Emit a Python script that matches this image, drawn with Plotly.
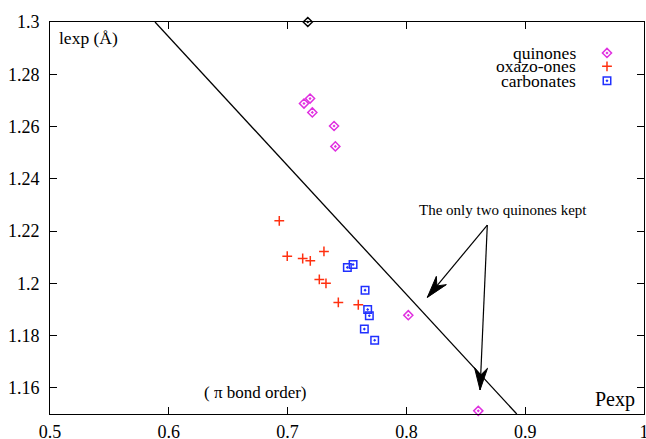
import plotly.graph_objects as go

# ---- data ----
quin_x = [0.7138, 0.7189, 0.7208, 0.7391, 0.7402, 0.8016, 0.8605]
quin_y = [1.2688, 1.2707, 1.2654, 1.2602, 1.2524, 1.1878, 1.1512]
oxa_x = [0.6930, 0.6997, 0.7127, 0.7191, 0.7306, 0.7267, 0.7323, 0.7427, 0.7595]
oxa_y = [1.2239, 1.2104, 1.2095, 1.2086, 1.2122, 1.2015, 1.2000, 1.1927, 1.1918]
carb_x = [0.7503, 0.7551, 0.7652, 0.7674, 0.7688, 0.7646, 0.7733]
carb_y = [1.2061, 1.2072, 1.1974, 1.1900, 1.1876, 1.1825, 1.1782]
extra_x = [0.717]
extra_y = [1.30]
line_x = [0.5884, 0.8929]
line_y = [1.30, 1.15]
arrow_tail = (0.8681, 1.2223)
arrow_tips = [(0.8176, 1.1946), (0.8620, 1.1592)]
series_names = ["quinones", "oxazo-ones", "carbonates"]
series_colors = ["#e030e0", "#ff3010", "#2030ff"]
x_ticks = [0.5, 0.6, 0.7, 0.8, 0.9, 1.0]
x_ticktext = ["0.5", "0.6", "0.7", "0.8", "0.9", "1"]
y_ticks = [1.16, 1.18, 1.20, 1.22, 1.24, 1.26, 1.28, 1.30]
y_ticktext = ["1.16", "1.18", "1.2", "1.22", "1.24", "1.26", "1.28", "1.3"]
x_range = [0.5, 1.0]
y_range = [1.15, 1.30]

FONT = "Liberation Serif, Times New Roman, serif"
W, H = 646, 439
ML, MR, MT, MB = 50, 2, 22, 25
PW, PH = W - ML - MR, H - MT - MB
px_per_x = PW / (x_range[1] - x_range[0])
px_per_y = PH / (y_range[1] - y_range[0])

fig = go.Figure()

# fitted line
fig.add_trace(go.Scatter(x=line_x, y=line_y, mode="lines",
                         line=dict(color="black", width=1.3), showlegend=False))

sym = ["diamond-open-dot", "cross-thin-open", "square-open-dot"]
sizes = [7, 7, 7.5]
datas = [(quin_x, quin_y), (oxa_x, oxa_y), (carb_x, carb_y)]
for (xs, ys), s, sz, c, n in zip(datas, sym, sizes, series_colors, series_names):
    fig.add_trace(go.Scatter(x=xs, y=ys, mode="markers", name=n,
                             marker=dict(symbol=s, size=sz, color=c,
                                         line=dict(color=c, width=1.5)),
                             showlegend=False, cliponaxis=False))

fig.add_trace(go.Scatter(x=extra_x, y=extra_y, mode="markers",
                         marker=dict(symbol="diamond-open-dot", size=7, color="black",
                                     line=dict(color="black", width=1.5)),
                         showlegend=False, cliponaxis=False))

# arrows: shafts + filled notched heads computed in pixel space
def head(tip, tail, L=22, hw=6.5, notch=15):
    tx, ty = tip[0] * px_per_x, tip[1] * px_per_y
    sx, sy = tail[0] * px_per_x, tail[1] * px_per_y
    dx, dy = sx - tx, sy - ty
    d = (dx * dx + dy * dy) ** 0.5
    ux, uy = dx / d, dy / d
    nx, ny = -uy, ux
    pts = [(tx, ty),
           (tx + ux * L + nx * hw, ty + uy * L + ny * hw),
           (tx + ux * notch, ty + uy * notch),
           (tx + ux * L - nx * hw, ty + uy * L - ny * hw),
           (tx, ty)]
    return [p[0] / px_per_x for p in pts], [p[1] / px_per_y for p in pts]

for tip in arrow_tips:
    fig.add_trace(go.Scatter(x=[arrow_tail[0], tip[0]], y=[arrow_tail[1], tip[1]],
                             mode="lines", line=dict(color="black", width=1.2),
                             showlegend=False, hoverinfo="skip"))
    hx, hy = head(tip, arrow_tail)
    fig.add_trace(go.Scatter(x=hx, y=hy, mode="lines", fill="toself",
                             fillcolor="black", line=dict(color="black", width=1),
                             showlegend=False, hoverinfo="skip"))

# manual legend (gnuplot style: text then symbol)
leg_y = [0.921, 0.887, 0.850]
for s, sz, c, yy in zip(sym, sizes, series_colors, leg_y):
    fig.add_trace(go.Scatter(x=[0.9377], y=[yy], xaxis="x2", yaxis="y2", mode="markers",
                             marker=dict(symbol=s, size=sz, color=c,
                                         line=dict(color=c, width=1.5)),
                             showlegend=False, hoverinfo="skip"))

annotations = []
for n, yy in zip(series_names, leg_y):
    annotations.append(dict(x=0.8872, y=yy, xref="paper", yref="paper", text=n,
                            showarrow=False, xanchor="right", yanchor="middle",
                            borderpad=0,
                            font=dict(family=FONT, size=17.5, color="black")))
annotations += [
    dict(x=0.0118, y=0.959, xref="paper", yref="paper", text="lexp (Å)", showarrow=False,
         xanchor="left", yanchor="middle", font=dict(family=FONT, size=17.5, color="black")),
    dict(x=0.3468, y=0.056, xref="paper", yref="paper", text="( π bond order)", showarrow=False,
         xanchor="center", yanchor="middle", font=dict(family=FONT, size=17, color="black")),
    dict(x=0.9882, y=0.036, xref="paper", yref="paper", text="Pexp", showarrow=False,
         xanchor="right", yanchor="middle", font=dict(family=FONT, size=20, color="black")),
    dict(x=0.7626, y=0.5204, xref="paper", yref="paper", text="The only two quinones kept",
         showarrow=False, xanchor="center", yanchor="middle",
         font=dict(family=FONT, size=15, color="black")),
]

axis_common = dict(showgrid=False, zeroline=False, showline=True, linecolor="black",
                   linewidth=1, mirror="ticks", ticks="inside", ticklen=7,
                   tickcolor="black", tickwidth=1, tickmode="array",
                   ticklabeloverflow="allow", automargin=False,
                   tickfont=dict(family=FONT, size=18, color="black"))

fig.update_layout(
    width=W, height=H,
    margin=dict(l=ML, r=MR, t=MT, b=MB, autoexpand=False),
    paper_bgcolor="white", plot_bgcolor="white",
    showlegend=False,
    xaxis=dict(range=x_range, tickvals=x_ticks, ticktext=x_ticktext,
               ticklabelstandoff=1, **axis_common),
    yaxis=dict(range=y_range, tickvals=y_ticks, ticktext=y_ticktext,
               ticklabelstandoff=6, **axis_common),
    xaxis2=dict(range=[0, 1], overlaying="x", visible=False),
    yaxis2=dict(range=[0, 1], overlaying="y", visible=False),
    annotations=annotations,
)

fig.write_html("out.html")
